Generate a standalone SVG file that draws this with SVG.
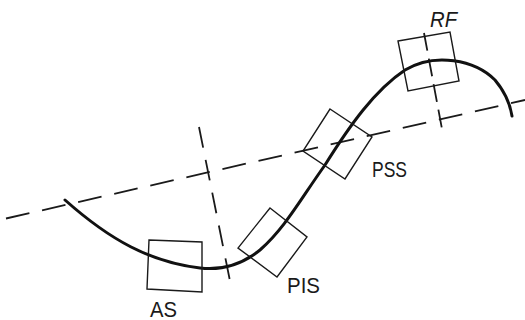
<svg xmlns="http://www.w3.org/2000/svg" width="525" height="320" viewBox="0 0 525 320">
<style>
.dash{fill:none;stroke:#1a1a1a;stroke-width:1.8;stroke-dasharray:24 13}
.curve{fill:none;stroke:#111;stroke-width:3;stroke-linecap:round}
.box{fill:none;stroke:#1a1a1a;stroke-width:1.4;stroke-linejoin:miter}
.lbl{font-family:"Liberation Sans",Arial,sans-serif;font-size:22px;fill:#1a1a1a}
</style>
<rect width="525" height="320" fill="#fff"/>
<g id="connectors">
<line class="dash" x1="6" y1="218.5" x2="525" y2="100"/>
<line class="dash" x1="199" y1="127" x2="230" y2="281" style="stroke-dasharray:21 12.5"/>
<line class="dash" x1="424" y1="33" x2="442" y2="129" style="stroke-dasharray:18 8"/>
<path class="curve" d="M65,200 C110,240 150,262 200,268 C225,271 245,262 260,250 C285,228 300,200 325,165 C350,125 375,90 405,70 C435,52 475,60 495,80 C505,92 510,103 512,116"/>
</g>
<g id="AS">
<polygon class="box" points="149,240 202,242 202,292 147,289"/>
<text class="lbl" x="150" y="316.5" textLength="27" lengthAdjust="spacingAndGlyphs">AS</text>
</g>
<g id="PIS">
<polygon class="box" points="270,208 307,237 277,277 238,248"/>
<text class="lbl" x="287" y="293" textLength="33" lengthAdjust="spacingAndGlyphs">PIS</text>
</g>
<g id="PSS">
<polygon class="box" points="330,109 372,137 345,179 303,151"/>
<text class="lbl" x="372" y="177" textLength="35" lengthAdjust="spacingAndGlyphs">PSS</text>
</g>
<g id="RF">
<polygon class="box" points="398,41 450,32 459,81 408,91"/>
<text class="lbl" x="430" y="27" textLength="27" lengthAdjust="spacingAndGlyphs" font-style="italic">RF</text>
</g>
</svg>
